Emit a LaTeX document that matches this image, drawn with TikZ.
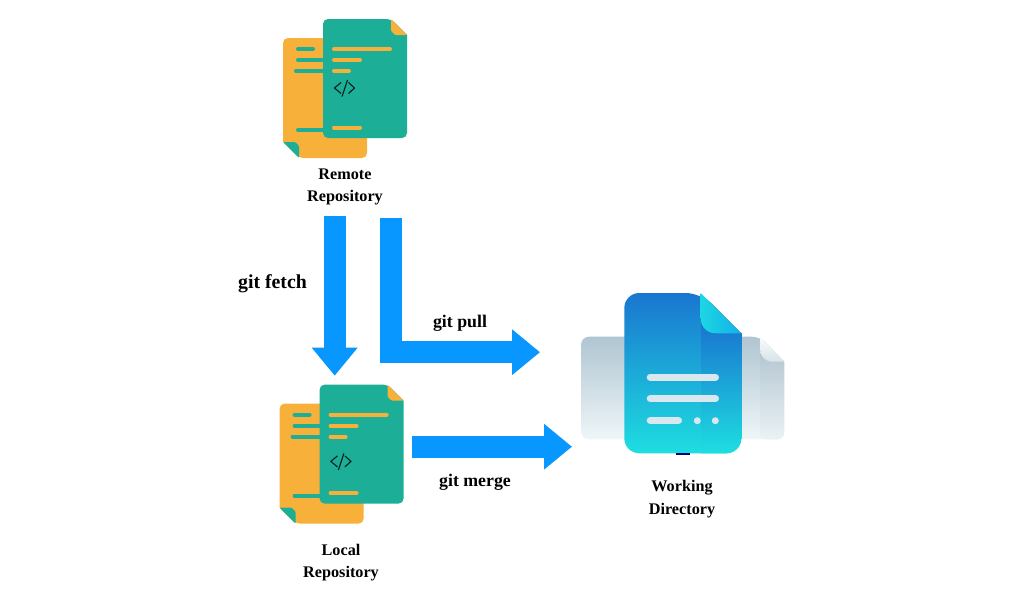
\documentclass[tikz,border=0pt]{standalone}
\usepackage{fontspec}
\setmainfont{Liberation Serif}
\usetikzlibrary{arrows.meta,positioning}
\definecolor{docorange}{HTML}{F7B03A}
\definecolor{docteal}{HTML}{1CAE96}
\definecolor{flowblue}{HTML}{0896FF}
\definecolor{pale}{HTML}{D8E8EE}
\tikzset{
  x=1pt,y=-1pt,
  flow/.style={draw=flowblue,line width=22.4pt,line cap=butt,line join=miter,
    -{Triangle[width=44pt,length=28pt]}},
  tealbar/.style={draw=docteal,line width=4pt,line cap=round},
  orangebar/.style={draw=docorange,line width=4pt,line cap=round},
  palebar/.style={draw=pale,line width=7pt,line cap=round},
  codeicon/.style={draw=black!75!teal,line width=1.1pt},
  caption/.style={font=\bfseries\fontsize{16.2}{22.3}\selectfont,align=center,text=black,inner sep=0pt},
  cmd/.style={font=\bfseries\fontsize{17.8}{20}\selectfont,text=black,inner sep=0pt},
  anchorbox/.style={inner sep=0pt,minimum width=124pt,minimum height=139pt},
  docpair/.pic={
    % orange sheet
    \fill[docorange,rounded corners=5pt] (320,38) -- (367,38) -- (367,158) -- (299,158)
      [sharp corners] -- (283,142) [rounded corners=5pt] -- (283,38) -- cycle;
    \fill[docteal,rounded corners=1pt] (283,142) -- (295,142) -- (299,146) -- (299,158) -- cycle;
    \draw[tealbar] (298,49) -- (313,49);
    \draw[tealbar] (298,60) -- (325,60);
    \draw[tealbar] (296,71) -- (325,71);
    \draw[tealbar] (298,130) -- (325,130);
    % teal sheet
    \fill[docteal,rounded corners=5pt] (350,19) -- (391,19) [sharp corners] -- (407,35)
      [rounded corners=5pt] -- (407,138) -- (323,138) -- (323,19) -- cycle;
    \fill[docorange,rounded corners=1pt] (391,19) -- (407,35) -- (395,35) -- (391,31) -- cycle;
    \draw[orangebar] (334,49) -- (390,49);
    \draw[orangebar] (334,60) -- (360,60);
    \draw[orangebar] (334,71) -- (349,71);
    \draw[orangebar] (334,127.5) -- (360,127.5);
  },
  codepic/.pic={
    \draw[codeicon] (341,82.5) -- (334.5,88) -- (341,93.5);
    \draw[codeicon] (347.5,80) -- (342,96.5);
    \draw[codeicon] (348.5,82.5) -- (354.5,88) -- (348.5,93.5);
  }
}
\begin{document}
\begin{tikzpicture}
\useasboundingbox (0,0) rectangle (1024,600);
\fill[white] (0,0) rectangle (1024,600);

% documents
\pic at (0,0) {docpair};
\pic at (0,0) {codepic};
\pic at (-3.4,365.6) {docpair};
\pic at (-3.6,373.4) {codepic};
\node[anchorbox] (remote) at (345,88.5) {};
\node[anchorbox] (local) at (341.6,454) {};

% working directory: back sheet
\shade[top color={rgb,255:red,176;green,198;blue,210},middle color={rgb,255:red,205;green,224;blue,230},bottom color={rgb,255:red,238;green,246;blue,248},rounded corners=8pt]
  (600,336.7) -- (760,336.7) [sharp corners] -- (784.3,361.7) [rounded corners=8pt] -- (784.3,439.3) -- (581,439.3) -- (581,336.7) -- cycle;
\shade[top color={rgb,255:red,180;green,198;blue,208},bottom color={rgb,255:red,234;green,242;blue,245}]
  (760,350) -- (772,361.7) -- (784.3,361.7) -- (784.3,432) [rounded corners=7pt] -- (784.3,439.3) -- (760,439.3) [sharp corners] -- cycle;
\shade[top color={rgb,255:red,250;green,252;blue,253},bottom color={rgb,255:red,214;green,227;blue,232}]
  (760,336.7) -- (784.3,361.7) -- (773,361.7) .. controls (765,361.7) and (760,356) .. (760,349) -- cycle;

% working directory: front sheet
\shade[top color={rgb,255:red,26;green,118;blue,208},middle color={rgb,255:red,6;green,160;blue,234},bottom color={rgb,255:red,30;green,222;blue,224},rounded corners=15pt]
  (624.3,293) -- (700.7,293) [sharp corners] -- (741.3,333.3) [rounded corners=15pt] -- (741.3,453.3) -- (624.3,453.3) -- cycle;
\begin{scope}
  \clip[rounded corners=15pt] (624.3,293) -- (700.7,293) [sharp corners] -- (741.3,333.3) [rounded corners=15pt] -- (741.3,453.3) -- (624.3,453.3) -- cycle;
  \shade[top color={rgb,255:red,24;green,92;blue,204},middle color={rgb,255:red,8;green,148;blue,232},bottom color={rgb,255:red,30;green,222;blue,224}]
    (701,293) rectangle (742,453.3);
\end{scope}
\shade[shading angle=60,left color={rgb,255:red,28;green,214;blue,226},right color={rgb,255:red,20;green,176;blue,232}]
  (700.7,293) -- (741.3,333.3) -- (716,333.3) .. controls (707,333.3) and (700.7,327) .. (700.7,318) -- cycle;
\draw[palebar] (650.2,377) -- (715.5,377);
\draw[palebar] (650.2,398.7) -- (715.5,398.7);
\draw[palebar] (650.2,420.7) -- (678.5,420.7);
\fill[pale] (697.3,420.7) circle (3.5);
\fill[pale] (715.3,420.7) circle (3.5);
\fill[blue!50!black] (676,453.3) rectangle (690,455.3);
\node[inner sep=0pt,minimum width=204pt,minimum height=162pt] (work) at (682.6,374) {};

% connectors
\coordinate (fetchstart) at (334.7,215.5);
\coordinate (fetchend) at (334.7,375.7);
\coordinate (pullstart) at (391,217.5);
\coordinate (pullbend) at (391,352.2);
\coordinate (pullend) at (540,352.2);
\coordinate (mergestart) at (411.7,446.7);
\coordinate (mergeend) at (572,446.7);
\draw[flow] (fetchstart) -- (fetchend);
\draw[flow] (pullstart) -- (pullbend) -- (pullend);
\draw[flow] (mergestart) -- (mergeend);

% labels
\node[caption] (remotelabel) at (345,187) {Remote\\Repository};
\node[caption] (locallabel) at (341,562.3) {Local\\Repository};
\node[caption] (worklabel) at (682,499) {Working\\Directory};
\node[cmd,font=\bfseries\fontsize{19.8}{22}\selectfont] (fetchlabel) at (272.5,284) {git fetch};
\node[cmd] (pulllabel) at (460,323) {git pull};
\node[cmd] (mergelabel) at (475,482) {git merge};
\end{tikzpicture}
\end{document}
